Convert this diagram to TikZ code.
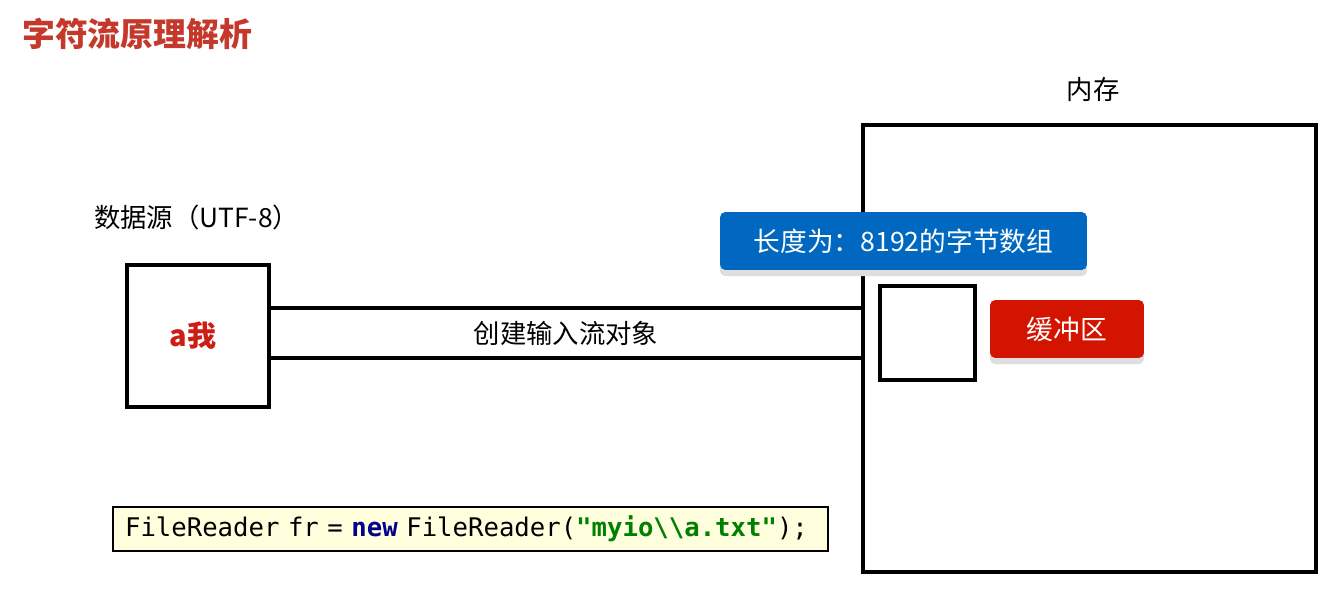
\documentclass[tikz,border=0pt]{standalone}
\usepackage{fontspec}
\setmainfont{Noto Sans CJK SC}
\newfontfamily\codefont{DejaVu Sans Mono}
\usetikzlibrary{shadows,calc}

\definecolor{titlered}{RGB}{196,57,43}
\definecolor{tagblue}{RGB}{0,104,192}
\definecolor{tagred}{RGB}{210,20,0}
\definecolor{charred}{RGB}{204,30,20}
\definecolor{codebg}{RGB}{255,255,222}
\definecolor{keyblue}{RGB}{0,0,136}
\definecolor{strgreen}{RGB}{0,128,0}

\begin{document}
\begin{tikzpicture}[x=0.02cm, y=-0.02cm,
        box/.style={rectangle, draw, line width=2.2pt, inner sep=0pt, fill=white},
        tag/.style={rectangle, rounded corners=3pt, text=white, inner sep=0pt, minimum height=1.16cm, font=\fontsize{15.2}{18}\selectfont, drop shadow={shadow xshift=0pt, shadow yshift=-3.5pt, fill=black!13, opacity=1}},
        pipe/.style={line width=2.2pt},
        lbl/.style={font=\fontsize{15}{18}\selectfont},
        codebox/.style={rectangle, draw, line width=0.8pt, fill=codebg, inner sep=0pt, minimum width=14.3cm, minimum height=0.88cm, text width=13.82cm, align=left, font=\codefont\fontsize{14.6}{17}\selectfont}
    ]
        \useasboundingbox (0,0) rectangle (1330,597);

        % Title
        \node[anchor=west, text=titlered, font=\fontsize{18.7}{22}\selectfont\bfseries] (title) at (16,34) {字符流原理解析};

        % Memory
        \node[box, minimum width=9.06cm, minimum height=8.94cm] (mem) at (1089.5,348.5) {};
        \node[lbl] (memlbl) at (1093,90) {内存};

        % Data source
        \node[box, minimum width=2.84cm, minimum height=2.84cm, text=charred, font=\fontsize{16.5}{20}\selectfont\bfseries] (src) at (198,336) {\hspace*{-0.2cm}a我};
        \node[lbl, anchor=west] (srclbl) at (88,217) {数据源（UTF-8）};

        % Stream between source and memory
        \coordinate (ptop) at ($(src.east)+(0,-28)$);
        \coordinate (pbot) at ($(src.east)+(0,22)$);
        \draw[pipe] (ptop) -- (ptop -| mem.west);
        \draw[pipe] (pbot) -- (pbot -| mem.west);
        \node[lbl] (pipelbl) at (566,333) {创建输入流对象};

        % Buffer
        \node[tag, fill=tagblue, minimum width=7.34cm] (arrlbl) at (903.5,241) {长度为：8192的字节数组};
        \node[box, line width=2pt, minimum width=1.9cm, minimum height=1.88cm] (buf) at (927.5,333) {};
        \node[tag, fill=tagred, minimum width=3.08cm] (buflbl) at (1067,329) {缓冲区};

        % Code
        \node[codebox] (code) at (470.5,529) {FileReader fr = \textcolor{keyblue}{\bfseries new} FileReader(\textcolor{strgreen}{\bfseries "myio\textbackslash\textbackslash a.txt"});};

    \end{tikzpicture}
\end{document}
